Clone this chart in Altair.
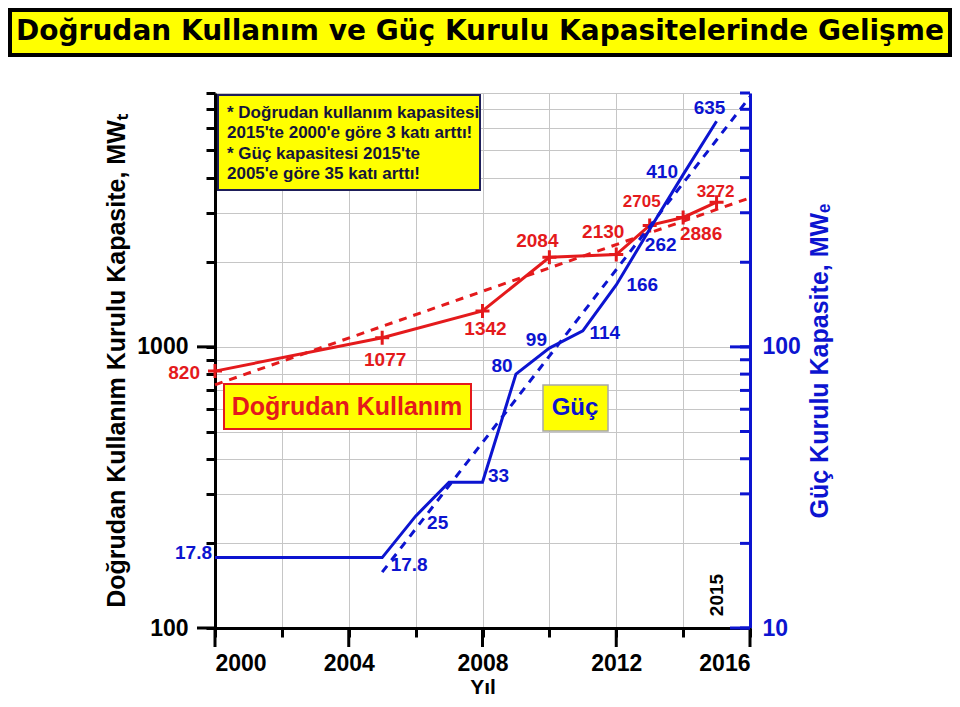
import altair as alt
import pandas as pd

# ---------------- data ----------------
years_dir = [2000, 2005, 2008, 2010, 2012, 2013, 2014, 2015]
vals_dir = [820, 1077, 1342, 2084, 2130, 2705, 2886, 3272]

years_pow = [2000, 2005, 2006, 2007, 2008, 2009, 2010, 2011, 2012, 2013, 2014, 2015]
vals_pow = [17.8, 17.8, 25, 33, 33, 80, 99, 114, 166, 262, 410, 635]

trend_dir_years = [2000, 2016]
trend_dir_vals = [733, 3390]
trend_pow_years = [2005, 2016]
trend_pow_vals = [15.8, 776]

left_ticks = [100, 200, 300, 400, 500, 600, 700, 800, 900,
              1000, 2000, 3000, 4000, 5000, 6000, 7000, 8000]
left_major = [100, 1000]
right_ticks = [10, 20, 30, 40, 50, 60, 70, 80, 90,
               100, 200, 300, 400, 500, 600, 700, 800]
right_major = [10, 100]
x_ticks = [2000, 2002, 2004, 2006, 2008, 2010, 2012, 2014, 2016]
x_major = [2000, 2004, 2008, 2012, 2016]

title_text = "Doğrudan Kullanım ve Güç Kurulu Kapasitelerinde Gelişme"
note_lines = ["* Doğrudan kullanım kapasitesi",
              "2015'te 2000'e göre 3 katı arttı!",
              "* Güç kapasitesi 2015'te",
              "2005'e göre 35 katı arttı!"]
left_title = "Doğrudan Kullanım Kurulu Kapasite, MWₜ"
right_title = "Güç Kurulu Kapasite, MWₑ"
x_title = "Yıl"

# ---------------- style ----------------
W = 535
H = 535
RED = "#e41a1c"
BLUE = "#0c14d0"
FONT = "Liberation Sans"
GRID = "#c6c6c6"

df_dir = pd.DataFrame({"year": years_dir, "val": vals_dir,
                       "label": [f"{v:g}" for v in vals_dir]})
df_pow = pd.DataFrame({"year": years_pow, "val": vals_pow,
                       "label": [f"{v:g}" for v in vals_pow]})
df_tdir = pd.DataFrame({"year": trend_dir_years, "val": trend_dir_vals})
df_tpow = pd.DataFrame({"year": trend_pow_years, "val": trend_pow_vals})

xs = alt.Scale(domain=[2000, 2016], nice=False, zero=False)
x_axis = alt.Axis(values=x_ticks,
                  labelExpr="datum.value % 4 == 0 ? format(datum.value, 'd') : ''",
                  tickSize=9, tickWidth=3, tickColor="black",
                  domainColor="black", domainWidth=3,
                  grid=True, gridColor=GRID, gridWidth=1,
                  labelFont=FONT, labelFontSize=23, labelFontWeight="bold",
                  labelColor="black", labelPadding=15,
                  title=x_title, titleFont=FONT, titleFontSize=21,
                  titleFontWeight="bold", titleColor="black",
                  titleY=65, titleBaseline="alphabetic")
X = alt.X("year:Q", scale=xs, axis=x_axis)

ys_left = alt.Scale(type="log", domain=[100, 8000], nice=False)
left_axis = alt.Axis(orient="left", values=left_ticks,
                     labelExpr="datum.value == 100 || datum.value == 1000 ? format(datum.value, 'd') : ''",
                     tickSize=9, tickWidth=3, tickColor="black",
                     domainColor="black", domainWidth=3,
                     grid=True, gridColor=GRID, gridWidth=1,
                     labelFont=FONT, labelFontSize=23, labelFontWeight="bold",
                     labelColor="black", labelPadding=18,
                     title=left_title, titleFont=FONT, titleFontSize=25,
                     titleFontWeight="bold", titleColor="black", titlePadding=7)
YL = alt.Y("val:Q", scale=ys_left, axis=left_axis)

ys_right = alt.Scale(type="log", domain=[10, 800], nice=False)
right_axis = alt.Axis(orient="right", values=right_ticks,
                      labelExpr="datum.value == 10 || datum.value == 100 ? format(datum.value, 'd') : ''",
                      ticks=False, tickSize=0,
                      domainColor=BLUE, domainWidth=3, grid=False,
                      labelFont=FONT, labelFontSize=23, labelFontWeight="bold",
                      labelColor=BLUE, labelPadding=12,
                      title=right_title, titleFont=FONT, titleFontSize=25,
                      titleFontWeight="bold", titleColor=BLUE, titlePadding=32,
                      titleAngle=270)
YR = alt.Y("val:Q", scale=ys_right, axis=right_axis)

PLUS = "M-1,0L1,0M0,-1L0,1"


def point_label(df, year, dx, dy, color, y_enc, size=19, align="center"):
    return (alt.Chart(df)
            .transform_filter(alt.datum.year == year)
            .mark_text(dx=dx, dy=dy, align=align, baseline="middle", font=FONT,
                       fontSize=size, fontWeight="bold", color=color)
            .encode(x=X, y=y_enc, text="label:N"))


def box(x1, y1, x2, y2, fill, stroke, sw):
    return alt.Chart(pd.DataFrame({"k": [0]})).mark_rect(
        fill=fill, stroke=stroke, strokeWidth=sw).encode(
        x=alt.value(x1), x2=alt.value(x2), y=alt.value(y1), y2=alt.value(y2))


def free_text(txt, x, y, color, size, align="center", angle=0, weight="bold", font=FONT):
    kw = dict(align=align, baseline="middle", font=font, fontSize=size,
              fontWeight=weight, color=color, text=txt)
    if angle:
        kw["angle"] = angle
    return alt.Chart(pd.DataFrame({"k": [0]})).mark_text(**kw).encode(
        x=alt.value(x), y=alt.value(y))


# ---------------- direct use (left axis) ----------------
red_trend = alt.Chart(df_tdir).mark_line(color=RED, strokeWidth=3,
                                         strokeDash=[8, 7]).encode(x=X, y=YL)
red_line = alt.Chart(df_dir).mark_line(color=RED, strokeWidth=3).encode(x=X, y=YL)
red_pts = alt.Chart(df_dir).mark_point(shape=PLUS, size=196, filled=False,
                                       stroke=RED, strokeWidth=3, opacity=1).encode(x=X, y=YL)
left_major_ticks = alt.Chart(pd.DataFrame({"val": left_major})).mark_rule(
    color="black", strokeWidth=3).encode(y=YL, x=alt.value(-18), x2=alt.value(0))
x_major_ticks = alt.Chart(pd.DataFrame({"year": x_major})).mark_rule(
    color="black", strokeWidth=3).encode(x=X, y=alt.value(H), y2=alt.value(H + 19))

red_labels = [
    point_label(df_dir, 2000, -15, 2, RED, YL, align="right"),
    point_label(df_dir, 2005, 3, 22, RED, YL),
    point_label(df_dir, 2008, 3, 18, RED, YL),
    point_label(df_dir, 2010, -12, -16, RED, YL),
    point_label(df_dir, 2012, -13, -23, RED, YL),
    point_label(df_dir, 2013, -8, -23, RED, YL, size=17),
    point_label(df_dir, 2014, 18, 17, RED, YL),
    point_label(df_dir, 2015, -1, -10, RED, YL, size=17),
]

red_group = alt.layer(red_trend, red_line, red_pts, left_major_ticks,
                      x_major_ticks, *red_labels)

# ---------------- power (right axis) ----------------
blue_trend = alt.Chart(df_tpow).mark_line(color=BLUE, strokeWidth=3,
                                          strokeDash=[8, 7]).encode(x=X, y=YR)
blue_line = alt.Chart(df_pow).mark_line(color=BLUE, strokeWidth=3).encode(x=X, y=YR)
right_minor = alt.Chart(pd.DataFrame({"val": right_ticks})).mark_rule(
    color=BLUE, strokeWidth=3).encode(y=YR, x=alt.value(W - 10), x2=alt.value(W))
right_maj = alt.Chart(pd.DataFrame({"val": right_major})).mark_rule(
    color=BLUE, strokeWidth=3).encode(y=YR, x=alt.value(W - 20), x2=alt.value(W))

blue_labels = [
    point_label(df_pow, 2000, -3, -5, BLUE, YR, align="right"),
    point_label(df_pow, 2005, 27, 7, BLUE, YR),
    point_label(df_pow, 2006, 22, 7, BLUE, YR),
    point_label(df_pow, 2008, 16, -6, BLUE, YR),
    point_label(df_pow, 2009, -14, -8, BLUE, YR),
    point_label(df_pow, 2010, -13, -8, BLUE, YR),
    point_label(df_pow, 2011, 22, 2, BLUE, YR),
    point_label(df_pow, 2012, 26, 0, BLUE, YR),
    point_label(df_pow, 2013, 11, 16, BLUE, YR),
    point_label(df_pow, 2014, -21, -3, BLUE, YR),
    point_label(df_pow, 2015, -7, -13, BLUE, YR),
]

blue_group = alt.layer(blue_trend, blue_line, right_minor, right_maj, *blue_labels)

# ---------------- decorations ----------------
title_box = box(-205, -83, 735, -38, "#ffff00", "black", 4)
title_lbl = free_text(title_text, 265, -61, "black", 28, weight="bold", font="DejaVu Sans")

note_box = box(3, 2, 265, 97, "#ffff00", "#1e1e5a", 2)
note_txt = [free_text(t, 12, yy, "#14143c", 17, align="left")
            for t, yy in zip(note_lines, [20, 40, 61, 81])]

dk_box = box(9, 291, 256, 336, "#ffff00", RED, 2)
dk_txt = free_text("Doğrudan Kullanım", 132, 314, RED, 25)
guc_box = box(328, 292, 393, 338, "#ffff00", "#a8a8a8", 1.5)
guc_txt = free_text("Güç", 360, 315, BLUE, 24)
yr_txt = free_text("2015", 502, 502, "black", 19, angle=270)

chart = alt.layer(
    red_group, blue_group,
    note_box, *note_txt, dk_box, dk_txt, guc_box, guc_txt, yr_txt,
    title_box, title_lbl,
).resolve_scale(y="independent").properties(
    width=W, height=H,
    autosize=alt.AutoSizeParams(type="none"),
    padding={"left": 207, "top": 85, "right": 202, "bottom": 71},
).configure_view(stroke=None).configure(background="white")

chart.save("out.html", embed_options={"renderer": "svg", "actions": False})
